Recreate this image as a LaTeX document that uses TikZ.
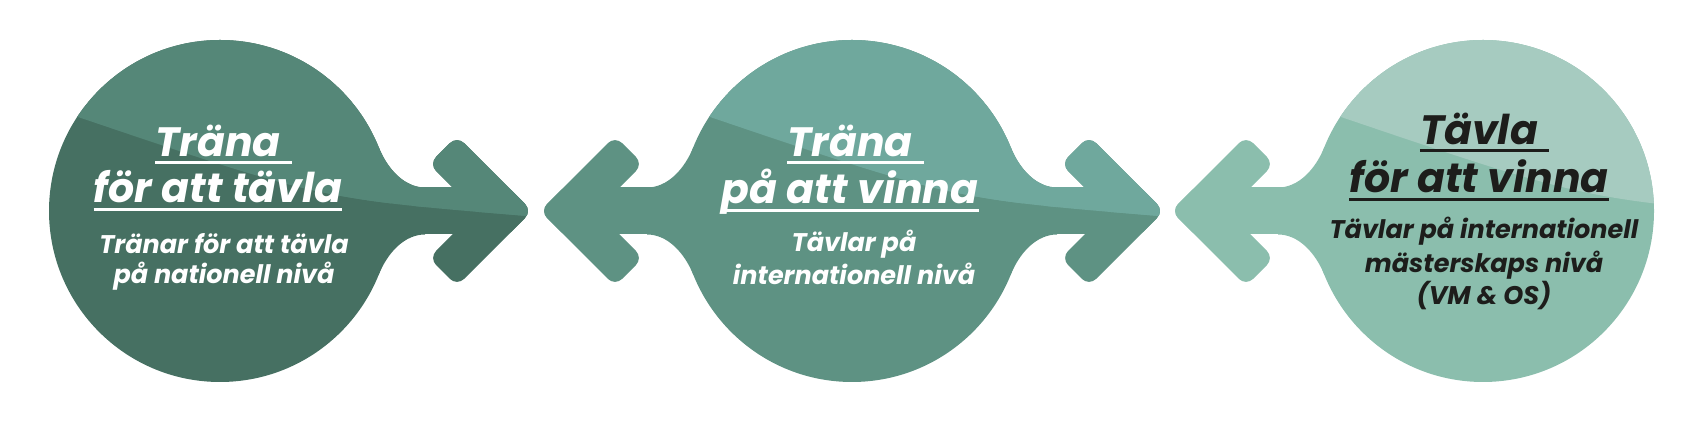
\documentclass[tikz,border=0pt]{standalone}
\usepackage{fontspec}
\setmainfont{Poppins}

\definecolor{pineDark}{HTML}{467062}
\definecolor{pineLight}{HTML}{558778}
\definecolor{sageDark}{HTML}{5E9283}
\definecolor{sageLight}{HTML}{6FA89D}
\definecolor{mintDark}{HTML}{8BBEAD}
\definecolor{mintLight}{HTML}{A6CBC0}
\definecolor{ink}{HTML}{1D1D1B}

% neck, shaft and head of one arrow, pointing right from the circle centre
\newcommand{\armparts}[1]{%
  \fill[#1] (22:171) .. controls (167.9,40.9) and (185,23.5) .. (205,23.5) -- (205,-23.5)
    .. controls (185,-23.5) and (167.9,-40.9) .. (-22:171) -- (0,0) -- cycle;
  \fill[#1] (195,-23.5) rectangle (260,23.5);
  \fill[#1,rounded corners=10] (237,75) -- (312,0) -- (284,-28) -- (209,47) -- cycle;
  \fill[#1,rounded corners=10] (237,-75) -- (312,0) -- (284,28) -- (209,-47) -- cycle;
}
% the lighter band above the cut
\newcommand{\uppercut}{\clip (-400,94) -- (-142,94) .. controls (100,12) .. (307,-5)
  -- (400,-5) -- (400,300) -- (-400,300) -- cycle;}

\begin{document}
\begin{tikzpicture}[x=1pt,y=1pt]
\tikzstyle{title}=[font=\fontsize{41}{43}\selectfont\bfseries\itshape, inner sep=0pt, anchor=base]
\tikzstyle{sub}=[font=\fontsize{25.5}{27}\selectfont\bfseries\itshape, inner sep=0pt, anchor=base]
\tikzstyle{uline}=[line width=2.2pt]
\useasboundingbox (0,0) rectangle (1691,427);

% first stage
\begin{scope}[shift={(220,216)}]
  \fill[pineDark] (0,0) circle (171);
  \armparts{pineDark}
  \begin{scope}
    \uppercut
    \fill[pineLight] (0,0) circle (171);
    \armparts{pineLight}
  \end{scope}
\end{scope}

% second stage
\begin{scope}[shift={(852,216)}]
  \fill[sageDark] (0,0) circle (171);
  \armparts{sageDark}
  \begin{scope}[xscale=-1]
    \armparts{sageDark}
  \end{scope}
  \begin{scope}
    \uppercut
    \fill[sageLight] (0,0) circle (171);
    \armparts{sageLight}
  \end{scope}
\end{scope}

% third stage
\begin{scope}[shift={(1483,216)}]
  \fill[mintDark] (0,0) circle (171);
  \begin{scope}[xscale=-1]
    \armparts{mintDark}
  \end{scope}
  \begin{scope}
    \uppercut
    \fill[mintLight] (0,0) circle (171);
  \end{scope}
\end{scope}

\node[title, text=white] (t1a) at (218,270) {Träna};
\node[title, text=white] (t1b) at (218,224) {för att tävla};
\node[sub, text=white] (s1a) at (224,173) {Tränar för att tävla};
\node[sub, text=white] (s1b) at (224,143) {på nationell nivå};
\draw[uline, white] ([yshift=-5.5pt]t1a.base west) -- ([yshift=-5.5pt,xshift=11pt]t1a.base east);
\draw[uline, white] ([yshift=-6.5pt]t1b.base west) -- ([yshift=-6.5pt]t1b.base east);

\node[title, text=white] (t2a) at (850,270) {Träna};
\node[title, text=white] (t2b) at (850,223) {på att vinna};
\node[sub, text=white] (s2a) at (854,175) {Tävlar på};
\node[sub, text=white] (s2b) at (854,142) {internationell nivå};
\draw[uline, white] ([yshift=-5.5pt]t2a.base west) -- ([yshift=-5.5pt,xshift=11pt]t2a.base east);
\draw[uline, white] ([yshift=-6.5pt]t2b.base west) -- ([yshift=-6.5pt]t2b.base east);

\node[title, text=ink] (t3a) at (1479,282) {Tävla};
\node[title, text=ink] (t3b) at (1479,234) {för att vinna};
\node[sub, text=ink] (s3a) at (1484,188) {Tävlar på internationell};
\node[sub, text=ink] (s3b) at (1484,154) {mästerskaps nivå};
\node[sub, text=ink] (s3c) at (1484,122) {(VM \& OS)};
\draw[uline, ink] ([yshift=-5.5pt]t3a.base west) -- ([yshift=-5.5pt,xshift=11pt]t3a.base east);
\draw[uline, ink] ([yshift=-6.5pt]t3b.base west) -- ([yshift=-6.5pt]t3b.base east);
\end{tikzpicture}
\end{document}
